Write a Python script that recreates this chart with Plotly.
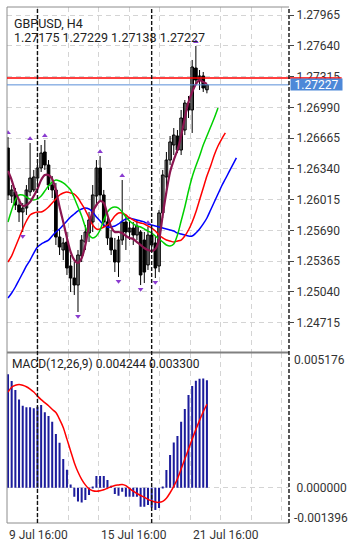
import plotly.graph_objects as go

# ---------------- data ----------------
symbol_title = "GBPUSD, H4"
ohlc_text = "1.27175 1.27229 1.27138 1.27227"
macd_title = "MACD(12,26,9) 0.004244 0.003300"

opens = [1.26560,1.26053,1.26096,1.25958,1.25884,1.25926,1.26096,1.26117,1.26243,1.26349,
         1.26518,1.26381,1.26169,1.26117,1.25620,1.25483,1.25567,1.25314,1.25187,1.25113,
         1.25420,1.25567,1.25662,1.25779,1.26053,1.26349,1.26064,1.25779,1.25610,1.25483,
         1.25356,1.25588,1.25779,1.25673,1.25715,1.25641,1.25673,1.25588,1.25325,1.25641,
         1.25557,1.25314,1.25874,1.26254,1.26433,1.26592,1.26687,1.26539,1.26750,1.27035,
         1.26962,1.27405,1.27278,1.27321,1.27175]
highs = [1.26676,1.26169,1.26138,1.26011,1.25979,1.26169,1.26613,1.26328,1.26433,1.26592,
         1.26645,1.26433,1.26264,1.26191,1.25694,1.25610,1.25673,1.25430,1.25356,1.25483,
         1.25641,1.25747,1.25884,1.26169,1.26433,1.26476,1.26117,1.25853,1.25694,1.25610,
         1.25631,1.26222,1.25853,1.25800,1.25779,1.25800,1.25694,1.25673,1.25726,1.25715,
         1.25631,1.25905,1.26328,1.26518,1.26687,1.26771,1.26750,1.26962,1.27067,1.27109,
         1.27490,1.27638,1.27384,1.27363,1.27229]
lows = [1.26011,1.25979,1.25905,1.25779,1.25673,1.25853,1.26053,1.26096,1.26169,1.26307,
        1.26328,1.26117,1.26032,1.25536,1.25430,1.25377,1.25219,1.25039,1.25008,1.24828,
        1.25356,1.25483,1.25567,1.25673,1.25958,1.26011,1.25715,1.25536,1.25430,1.25250,
        1.25198,1.25536,1.25483,1.25588,1.25536,1.25588,1.25113,1.25134,1.25272,1.25483,
        1.25187,1.25250,1.25821,1.26117,1.26381,1.26486,1.26507,1.26486,1.26697,1.26877,
        1.26719,1.27226,1.27173,1.27152,1.27138]
closes = [1.26064,1.26117,1.25958,1.25884,1.25926,1.26117,1.26243,1.26254,1.26349,1.26507,
          1.26381,1.26169,1.26117,1.25620,1.25515,1.25557,1.25293,1.25187,1.25113,1.25430,
          1.25588,1.25673,1.25800,1.26064,1.26349,1.26064,1.25779,1.25610,1.25483,1.25356,
          1.25588,1.25779,1.25673,1.25715,1.25641,1.25736,1.25219,1.25250,1.25641,1.25536,
          1.25293,1.25874,1.26275,1.26433,1.26624,1.26697,1.26539,1.26877,1.27035,1.26962,
          1.27416,1.27278,1.27321,1.27194,1.27227]

# Alligator (values already at their shifted bar positions)
jaw = [1.24976,1.25029,1.25092,1.25166,1.25240,1.25314,1.25377,1.25451,1.25515,1.25546,
       1.25567,1.25588,1.25631,1.25673,1.25705,1.25747,1.25789,1.25831,1.25863,1.25895,
       1.25916,1.25926,1.25916,1.25884,1.25831,1.25789,1.25747,1.25726,1.25726,1.25736,
       1.25758,1.25789,1.25810,1.25821,1.25810,1.25800,1.25789,1.25779,1.25758,1.25747,
       1.25736,1.25726,1.25715,1.25705,1.25694,1.25683,1.25662,1.25652,1.25641,1.25631,
       1.25631,1.25662,1.25705,1.25758,1.25821,1.25905,1.25990,1.26074,1.26159,1.26233,
       1.26307,1.26381,1.26455]
teeth = [1.25356,1.25420,1.25515,1.25610,1.25705,1.25789,1.25853,1.25874,1.25884,1.25884,
         1.25905,1.25937,1.25979,1.26022,1.26064,1.26085,1.26096,1.26085,1.26074,1.26032,
         1.25969,1.25905,1.25821,1.25747,1.25705,1.25705,1.25726,1.25747,1.25789,1.25842,
         1.25874,1.25874,1.25853,1.25821,1.25800,1.25779,1.25768,1.25758,1.25736,1.25715,
         1.25683,1.25641,1.25610,1.25588,1.25578,1.25567,1.25578,1.25588,1.25631,1.25694,
         1.25779,1.25884,1.26011,1.26138,1.26264,1.26370,1.26486,1.26581,1.26655,1.26719]
lips = [1.25779,1.25905,1.26011,1.26064,1.26064,1.26043,1.26022,1.26011,1.26022,1.26053,
        1.26106,1.26159,1.26201,1.26222,1.26212,1.26191,1.26159,1.26117,1.26032,1.25937,
        1.25842,1.25726,1.25641,1.25610,1.25631,1.25694,1.25800,1.25884,1.25926,1.25937,
        1.25926,1.25884,1.25831,1.25789,1.25758,1.25736,1.25726,1.25705,1.25683,1.25662,
        1.25631,1.25599,1.25567,1.25536,1.25525,1.25546,1.25641,1.25789,1.25937,1.26106,
        1.26254,1.26370,1.26476,1.26592,1.26687,1.26782,1.26877,1.26983]
ma_line = [1.26317,1.26222,1.26096,1.26011,1.25948,1.25958,1.25990,1.26053,1.26127,1.26222,
           1.26275,1.26275,1.26233,1.26117,1.25937,1.25779,1.25610,1.25462,1.25377,1.25346,
           1.25399,1.25536,1.25747,1.25884,1.25958,1.26000,1.25979,1.25853,1.25726,1.25673,
           1.25673,1.25662,1.25631,1.25610,1.25599,1.25567,1.25536,1.25504,1.25483,1.25472,
           1.25494,1.25588,1.25853,1.26096,1.26307,1.26433,1.26539,1.26687,1.26877,1.27046,
           1.27152,1.27236,1.27278,1.27257,1.27236]

fractal_up = [0, 6, 10, 25, 31, 38, 51]
fractal_down = [4, 19, 30, 36, 40]

macd_hist = [0.00448,0.00422,0.00386,0.00349,0.00324,0.00318,0.00318,0.00314,0.00320,0.00327,
             0.00298,0.00283,0.00261,0.00212,0.00178,0.00113,0.00071,0.00013,-0.00036,-0.00055,
             -0.00059,-0.00049,-0.00029,0.00002,0.00046,0.00046,0.00046,0.00030,0.00008,-0.00025,
             -0.00032,-0.00016,-0.00036,-0.00036,-0.00036,-0.00036,-0.00075,-0.00075,-0.00068,-0.00078,
             -0.00088,-0.00080,0.00005,0.00070,0.00129,0.00179,0.00204,0.00261,0.00311,0.00366,
             0.00402,0.00423,0.00431,0.00432,0.004244]
macd_signal = [0.00378,0.00397,0.00405,0.00408,0.00405,0.00399,0.00390,0.00378,0.00362,0.00348,
               0.00336,0.00324,0.00310,0.00297,0.00270,0.00238,0.00192,0.00145,0.00099,0.00062,
               0.00033,0.00011,-0.00005,-0.00012,-0.00014,-0.00012,-0.00008,-0.00002,0.00004,0.00009,
               0.00011,0.00013,0.00008,-0.00003,-0.00014,-0.00023,-0.00031,-0.00038,-0.00046,-0.00052,
               -0.00057,-0.00058,-0.00054,-0.00042,-0.00020,0.00005,0.00035,0.00074,0.00113,0.00152,
               0.00192,0.00230,0.00266,0.00300,0.00330]

price_ticks = [1.24715, 1.25040, 1.25365, 1.25690, 1.26015, 1.26340,
               1.26665, 1.26990, 1.27315, 1.27640, 1.27965]
macd_max_label = 0.005176
macd_min_label = -0.001396
x_label_bars = [0, 25, 50]
x_labels = ["9 Jul 16:00", "15 Jul 16:00", "21 Jul 16:00"]
week_separators = [8, 39]
bid_price = 1.27227
ask_price = 1.27300

# ---------------- layout constants ----------------
W, H = 354, 553
ML, MR, MT, MB = 7, 63, 7, 30
plot_h = H - MT - MB
split = (523 - 352.5) / plot_h
x_range = [-0.2695, 76.28]
y_range = [1.244002, 1.280495]
y2_range = [-0.001396, 0.005344]
GRID = "#d4d4d4"
FONT = "Roboto"
TXT = "#333333"

n = len(closes)
idx = list(range(n))

fig = go.Figure()

# wicks
wx, wy = [], []
for i in idx:
    wx += [i, i, None]
    wy += [lows[i], highs[i], None]
fig.add_trace(go.Scatter(x=wx, y=wy, mode="lines", line=dict(color="#000000", width=1),
                         hoverinfo="skip", xaxis="x", yaxis="y"))
# bodies
base = [min(o, c) for o, c in zip(opens, closes)]
hgt = [max(abs(c - o), 0.000012) for o, c in zip(opens, closes)]
cols = ["#c8c8c8" if c >= o else "#000000" for o, c in zip(opens, closes)]
fig.add_trace(go.Bar(x=idx, y=hgt, base=base, width=0.72, marker=dict(color=cols, line=dict(color="#000000", width=1)),
                     hoverinfo="skip", xaxis="x", yaxis="y"))

def line(vals, color, width):
    fig.add_trace(go.Scatter(x=list(range(len(vals))), y=vals, mode="lines",
                             line=dict(color=color, width=width, shape="spline", smoothing=0.8),
                             hoverinfo="skip", xaxis="x", yaxis="y"))

line(jaw, "#0000ff", 1.5)
line(teeth, "#ff0000", 1.5)
line(lips, "#00d000", 1.5)
line(ma_line, "#8b1550", 2.2)

off = 0.00045
fig.add_trace(go.Scatter(x=fractal_up, y=[highs[i] + off for i in fractal_up], mode="markers",
                         marker=dict(symbol="triangle-up", size=5, color="#8a3bd0"),
                         hoverinfo="skip", xaxis="x", yaxis="y"))
fig.add_trace(go.Scatter(x=fractal_down, y=[lows[i] - off for i in fractal_down], mode="markers",
                         marker=dict(symbol="triangle-down", size=5, color="#8a3bd0"),
                         hoverinfo="skip", xaxis="x", yaxis="y"))

# MACD
fig.add_trace(go.Bar(x=idx, y=macd_hist, width=0.55, marker=dict(color="#1c1c9c", line=dict(width=0)),
                     hoverinfo="skip", xaxis="x2", yaxis="y2"))
fig.add_trace(go.Scatter(x=idx, y=macd_signal, mode="lines",
                         line=dict(color="#ff0000", width=1.5, shape="spline", smoothing=0.8),
                         hoverinfo="skip", xaxis="x2", yaxis="y2"))

shapes = []
# grey frame
for yy in (0, 1):
    shapes.append(dict(type="line", xref="paper", yref="paper", x0=0, x1=1, y0=yy, y1=yy,
                       line=dict(color="#8c8c8c", width=1)))
shapes.append(dict(type="line", xref="paper", yref="paper", x0=0, x1=1, y0=split, y1=split,
                   line=dict(color="#808080", width=2)))
shapes.append(dict(type="line", xref="paper", yref="paper", x0=0, x1=0, y0=0, y1=1,
                   line=dict(color="#8c8c8c", width=1)))
# bid / ask
shapes.append(dict(type="line", xref="paper", yref="y", x0=0, x1=1, y0=bid_price, y1=bid_price,
                   line=dict(color="#5a8fd8", width=1)))
shapes.append(dict(type="line", xref="paper", yref="y", x0=0, x1=1.1866, y0=ask_price, y1=ask_price,
                   line=dict(color="#ff0000", width=1.5)))
# week separators
for s in week_separators:
    shapes.append(dict(type="line", xref="x", yref="paper", x0=s, x1=s, y0=0, y1=1,
                       line=dict(color="#111111", width=1.4, dash="4px,2px")))
# right axis dashed line
shapes.append(dict(type="line", xref="paper", yref="paper", x0=1, x1=1, y0=0, y1=1,
                   line=dict(color="#111111", width=1.4, dash="4px,2px")))

annotations = [
    dict(text=symbol_title, xref="paper", yref="paper", x=(12.5 - ML) / 284, y=(523 - 23) / plot_h,
         xanchor="left", yanchor="middle", showarrow=False, font=dict(family=FONT, size=12.5, color="#222")),
    dict(text=ohlc_text, xref="paper", yref="paper", x=(12.5 - ML) / 284, y=(523 - 37.5) / plot_h,
         xanchor="left", yanchor="middle", showarrow=False, font=dict(family=FONT, size=12.5, color="#222")),
    dict(text=macd_title, xref="paper", yref="paper", x=(10 - ML) / 284, y=(523 - 364) / plot_h,
         xanchor="left", yanchor="middle", showarrow=False, font=dict(family=FONT, size=12, color="#222")),
    dict(text="%.5f" % bid_price, xref="paper", yref="y", x=1, y=bid_price, xanchor="left", xshift=1,
         yanchor="middle", showarrow=False, bgcolor="#4d88d8", width=51, height=11, borderpad=0,
         font=dict(family=FONT, size=12, color="#ffffff")),
    dict(text="%.6f" % macd_max_label, xref="paper", yref="y2", x=1, y=macd_max_label, xanchor="left",
         xshift=3, yshift=-3, yanchor="middle", showarrow=False, font=dict(family=FONT, size=12, color=TXT)),
    dict(text="%.6f" % macd_min_label, xref="paper", yref="y2", x=1, y=macd_min_label, xanchor="left",
         xshift=3, yshift=5, yanchor="middle", showarrow=False, font=dict(family=FONT, size=12, color=TXT)),
]
for b, t in zip(x_label_bars, x_labels):
    annotations.append(dict(text=t, xref="x2", yref="paper", x=b, y=(523 - 535) / plot_h, xanchor="left",
                            xshift=-1, yanchor="middle", showarrow=False,
                            font=dict(family=FONT, size=12, color=TXT)))

xgrid = dict(range=x_range, showticklabels=False, ticks="", showgrid=True, gridcolor=GRID,
             griddash="5px,4px", gridwidth=1, tick0=-0.2695, dtick=8.294, zeroline=False, showline=False)

fig.update_layout(
    width=W, height=H, margin=dict(l=ML, r=MR, t=MT, b=MB),
    paper_bgcolor="white", plot_bgcolor="white", showlegend=False, barmode="overlay",
    font=dict(family=FONT, size=12, color=TXT),
    xaxis=dict(domain=[0, 1], anchor="y", **xgrid),
    xaxis2=dict(domain=[0, 1], anchor="y2", matches="x", **xgrid),
    yaxis=dict(domain=[split, 1], range=y_range, side="right", anchor="x",
               tickvals=price_ticks, ticktext=["%.5f" % v for v in price_ticks],
               ticks="outside", ticklen=4, tickcolor="#444", showgrid=True, gridcolor=GRID,
               griddash="5px,4px", zeroline=False, showline=False, tickfont=dict(family=FONT, size=12, color=TXT)),
    yaxis2=dict(domain=[0, split], range=y2_range, side="right", anchor="x2",
                tickvals=[0], ticktext=["0.000000"], ticks="outside", ticklen=4,
                tickcolor="rgba(0,0,0,0)", showgrid=True, gridcolor=GRID, griddash="5px,4px",
                zeroline=False, showline=False, tickfont=dict(family=FONT, size=12, color=TXT)),
    shapes=shapes, annotations=annotations,
)

fig.write_html("out.html")
